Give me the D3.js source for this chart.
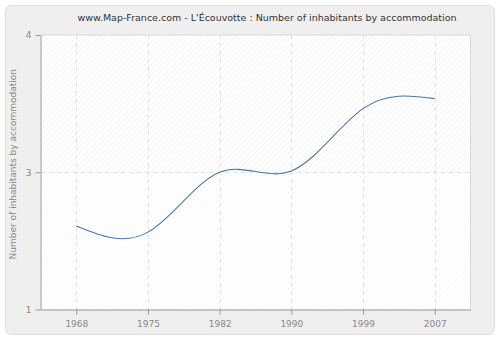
<!DOCTYPE html>
<html>
<head>
<meta charset="utf-8">
<script src="https://cdn.jsdelivr.net/npm/d3@7"></script>
<style>
  html, body { margin: 0; padding: 0; background: #ffffff; }
  svg { display: block; }
</style>
</head>
<body>
<svg id="chart" width="500" height="340"></svg>
<script>
// Census years and average number of inhabitants per accommodation
const years = ["1968", "1975", "1982", "1990", "1999", "2007"];
const inhabitants = [2.07, 2.02, 2.50, 2.51, 3.01, 3.09];
// Y tick positions (labels are shown rounded to whole numbers)
const yTickValues = [1.4, 2.5, 3.6];

const title = "www.Map-France.com - L'Écouvotte : Number of inhabitants by accommodation";
const yTitle = "Number of inhabitants by accommodation";

const svg = d3.select("#chart");
const plot = { left: 40.5, right: 470.5, top: 35, bottom: 309.5 };

// Outer panel
svg.append("rect")
  .attr("x", 5.5).attr("y", 5.5)
  .attr("width", 489).attr("height", 329)
  .attr("rx", 6).attr("ry", 6)
  .attr("fill", "#efefef")
  .attr("stroke", "#dedede");

// Hatch patterns for the plot background
const defs = svg.append("defs");
function hatch(id, color) {
  const p = defs.append("pattern")
    .attr("id", id)
    .attr("patternUnits", "userSpaceOnUse")
    .attr("width", 4).attr("height", 4)
    .attr("patternTransform", "rotate(45)");
  p.append("rect").attr("width", 4).attr("height", 4).attr("fill", "#ffffff");
  p.append("line").attr("x1", 0).attr("y1", 0).attr("x2", 0).attr("y2", 4)
    .attr("stroke", color).attr("stroke-width", 1.2);
}
hatch("hatchA", "#ebebeb");
hatch("hatchB", "#f4f4f4");

const x = d3.scalePoint()
  .domain(years)
  .range([plot.left, plot.right])
  .padding(0.5);

const y = d3.scaleLinear()
  .domain([yTickValues[0], yTickValues[yTickValues.length - 1]])
  .range([plot.bottom, plot.top]);

// Alternating bands between horizontal grid lines
for (let i = 0; i < yTickValues.length - 1; i++) {
  const y0 = y(yTickValues[i]), y1 = y(yTickValues[i + 1]);
  svg.append("rect")
    .attr("x", plot.left).attr("y", y1)
    .attr("width", plot.right - plot.left).attr("height", y0 - y1)
    .attr("fill", i % 2 === 0 ? "url(#hatchB)" : "url(#hatchA)");
}

// Plot frame (top and right)
svg.append("path")
  .attr("d", `M${plot.left},${plot.top}H${plot.right}V${plot.bottom}`)
  .attr("fill", "none")
  .attr("stroke", "#d8d8d8");

// Grid lines
const grid = svg.append("g")
  .attr("stroke", "#e0e0e0")
  .attr("stroke-dasharray", "4,4")
  .attr("shape-rendering", "crispEdges");
years.forEach(d => {
  grid.append("line")
    .attr("x1", Math.round(x(d)) + 0.5).attr("x2", Math.round(x(d)) + 0.5)
    .attr("y1", plot.top).attr("y2", plot.bottom);
});
yTickValues.slice(1, -1).forEach(v => {
  grid.append("line")
    .attr("x1", plot.left).attr("x2", plot.right)
    .attr("y1", Math.round(y(v)) + 0.5).attr("y2", Math.round(y(v)) + 0.5);
});

// Data line
const line = d3.line()
  .x((d, i) => x(years[i]))
  .y(d => y(d))
  .curve(d3.curveNatural);

svg.append("path")
  .datum(inhabitants)
  .attr("d", line)
  .attr("fill", "none")
  .attr("stroke", "#4a78ad")
  .attr("stroke-width", 1.1);

// Axes
const fontFamily = "'DejaVu Sans', Verdana, sans-serif";

const xAxis = svg.append("g")
  .attr("transform", `translate(0,${plot.bottom})`)
  .call(d3.axisBottom(x).tickSize(5).tickPadding(6).tickSizeOuter(0));
const yAxis = svg.append("g")
  .attr("transform", `translate(${plot.left},0)`)
  .call(d3.axisLeft(y).tickValues(yTickValues).tickFormat(d3.format(".0f"))
    .tickSize(5).tickPadding(4).tickSizeOuter(0));

[xAxis, yAxis].forEach(g => {
  g.select(".domain").attr("stroke", "#999999");
  g.selectAll(".tick line").attr("stroke", "#999999");
  g.selectAll(".tick text")
    .attr("fill", "#888888")
    .style("font-family", fontFamily)
    .style("font-size", "9px");
});

// Title
svg.append("text")
  .attr("x", 267).attr("y", 21)
  .attr("text-anchor", "middle")
  .style("font-family", fontFamily)
  .style("font-size", "9.5px")
  .attr("fill", "#333333")
  .text(title);

// Y axis title
svg.append("text")
  .attr("transform", `translate(16,${(plot.top + plot.bottom) / 2 - 8}) rotate(-90)`)
  .attr("text-anchor", "middle")
  .style("font-family", fontFamily)
  .style("font-size", "9px")
  .attr("fill", "#888888")
  .text(yTitle);
</script>
</body>
</html>
